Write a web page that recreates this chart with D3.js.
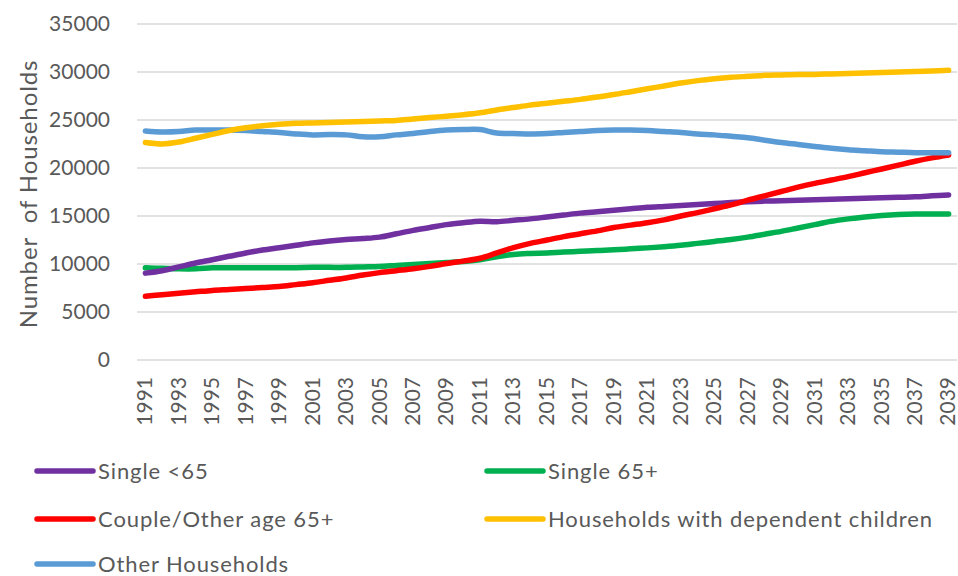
<!DOCTYPE html>
<html><head><meta charset="utf-8">
<script src="https://cdn.jsdelivr.net/npm/d3@7"></script>
<style>body{margin:0;background:#fff}svg{display:block}text{font-family:Lato,"Open Sans",sans-serif;fill:#595959}</style>
</head><body><svg id="c" width="958" height="576"></svg>
<script>
const years = d3.range(1991, 2040);
const yTicks = [0,5000,10000,15000,20000,25000,30000,35000];
const seriesNames = ["Single <65","Single 65+","Couple/Other age 65+","Households with dependent children","Other Households"];
const seriesColors = ["#7030A0","#00B050","#FF0000","#FFC000","#5B9BD5"];
const single65under = [9050,9300,9700,10100,10450,10800,11150,11450,11700,11950,12200,12400,12550,12650,12800,13150,13500,13800,14100,14300,14450,14400,14550,14700,14900,15100,15300,15450,15600,15750,15900,16000,16100,16200,16300,16400,16480,16550,16600,16650,16700,16750,16800,16850,16900,16950,17000,17100,17200];
const single65plus = [9600,9550,9500,9500,9600,9620,9620,9620,9620,9620,9650,9650,9650,9700,9750,9850,9950,10050,10150,10250,10450,10750,11000,11100,11150,11250,11320,11400,11480,11580,11680,11800,11950,12150,12350,12550,12800,13100,13400,13750,14100,14450,14700,14900,15050,15150,15200,15200,15200];
const couple65plus = [6650,6800,6950,7100,7250,7350,7450,7550,7650,7850,8050,8300,8550,8850,9100,9300,9500,9750,10050,10300,10600,11150,11700,12150,12500,12850,13150,13450,13800,14050,14300,14600,15000,15350,15750,16150,16650,17100,17550,18000,18400,18750,19100,19500,19900,20300,20700,21050,21350];
const withChildren = [22650,22500,22700,23100,23500,23900,24200,24400,24550,24650,24700,24750,24800,24850,24900,24950,25100,25250,25400,25550,25750,26050,26300,26550,26750,26950,27150,27400,27650,27950,28250,28550,28850,29100,29300,29450,29550,29650,29700,29750,29750,29800,29850,29900,29950,30000,30050,30100,30170];
const otherHouseholds = [23850,23750,23800,23950,23950,23950,23900,23800,23700,23550,23450,23480,23450,23250,23250,23450,23600,23800,23950,24000,24000,23650,23600,23550,23600,23700,23800,23900,23950,23950,23900,23800,23700,23550,23450,23300,23150,22900,22650,22450,22250,22050,21900,21800,21700,21650,21600,21600,21600];
const seriesValues = [single65under, single65plus, couple65plus, withChildren, otherHouseholds];

const svg = d3.select("#c");
const pLeft = 137, pRight = 957, pTop = 24, pBottom = 360;
const x = d3.scalePoint().domain(years).range([pLeft, pRight]).padding(0.5);
const y = d3.scaleLinear().domain([0,35000]).range([pBottom, pTop]);

// gridlines
svg.append("g").selectAll("line").data(yTicks).join("line")
  .attr("x1", pLeft).attr("x2", pRight)
  .attr("y1", d => y(d)).attr("y2", d => y(d))
  .attr("stroke", "#d9d9d9").attr("stroke-width", 1.5);

// y axis labels
const ya = svg.append("g").attr("transform", `translate(${pLeft},0)`)
  .call(d3.axisLeft(y).tickValues(yTicks).tickSize(0).tickPadding(27).tickFormat(d3.format("d")));
ya.select(".domain").remove();
ya.selectAll("text").style("font-size","21px").attr("fill","#595959").style("font-family","Lato");

// x axis labels
const xa = svg.append("g").attr("transform", `translate(0,${pBottom})`)
  .call(d3.axisBottom(x).tickValues(years.filter(d => (d-1991)%2===0)).tickSize(0).tickFormat(d => d));
xa.select(".domain").remove();
xa.selectAll("text").style("font-size","21px").attr("fill","#595959").style("font-family","Lato")
  .attr("text-anchor","end").attr("transform","rotate(-90)").attr("x", -17).attr("y", -1).attr("dy","0.35em");

// y title
svg.append("text").attr("transform","translate(37,194) rotate(-90)").attr("text-anchor","middle")
  .style("font-size","24px").style("letter-spacing","0.9px").style("white-space","pre").text("Number  of Households");

// lines
const line = d3.line().x((d,i) => x(years[i])).y(d => y(d)).curve(d3.curveCatmullRom.alpha(0.5));
const drawOrder = [1,0,2,4,3];
svg.append("g").selectAll("path").data(drawOrder).join("path")
  .attr("d", k => line(seriesValues[k]))
  .attr("fill","none").attr("stroke", k => seriesColors[k])
  .attr("stroke-width", 5.5).attr("stroke-linecap","round").attr("stroke-linejoin","round");

// legend
const legPos = [[37,471],[487,471],[37,519],[487,519],[37,564]];
const lg = svg.append("g").selectAll("g").data(seriesNames).join("g")
  .attr("transform", (d,i) => `translate(${legPos[i][0]},${legPos[i][1]})`);
lg.append("line").attr("x1",0).attr("x2",56).attr("y1",0).attr("y2",0)
  .attr("stroke",(d,i)=>seriesColors[i]).attr("stroke-width",5.5).attr("stroke-linecap","round");
lg.append("text").attr("x",61).attr("dy","0.35em").style("font-size","22px").style("letter-spacing","0.9px").text(d=>d);
</script></body></html>
